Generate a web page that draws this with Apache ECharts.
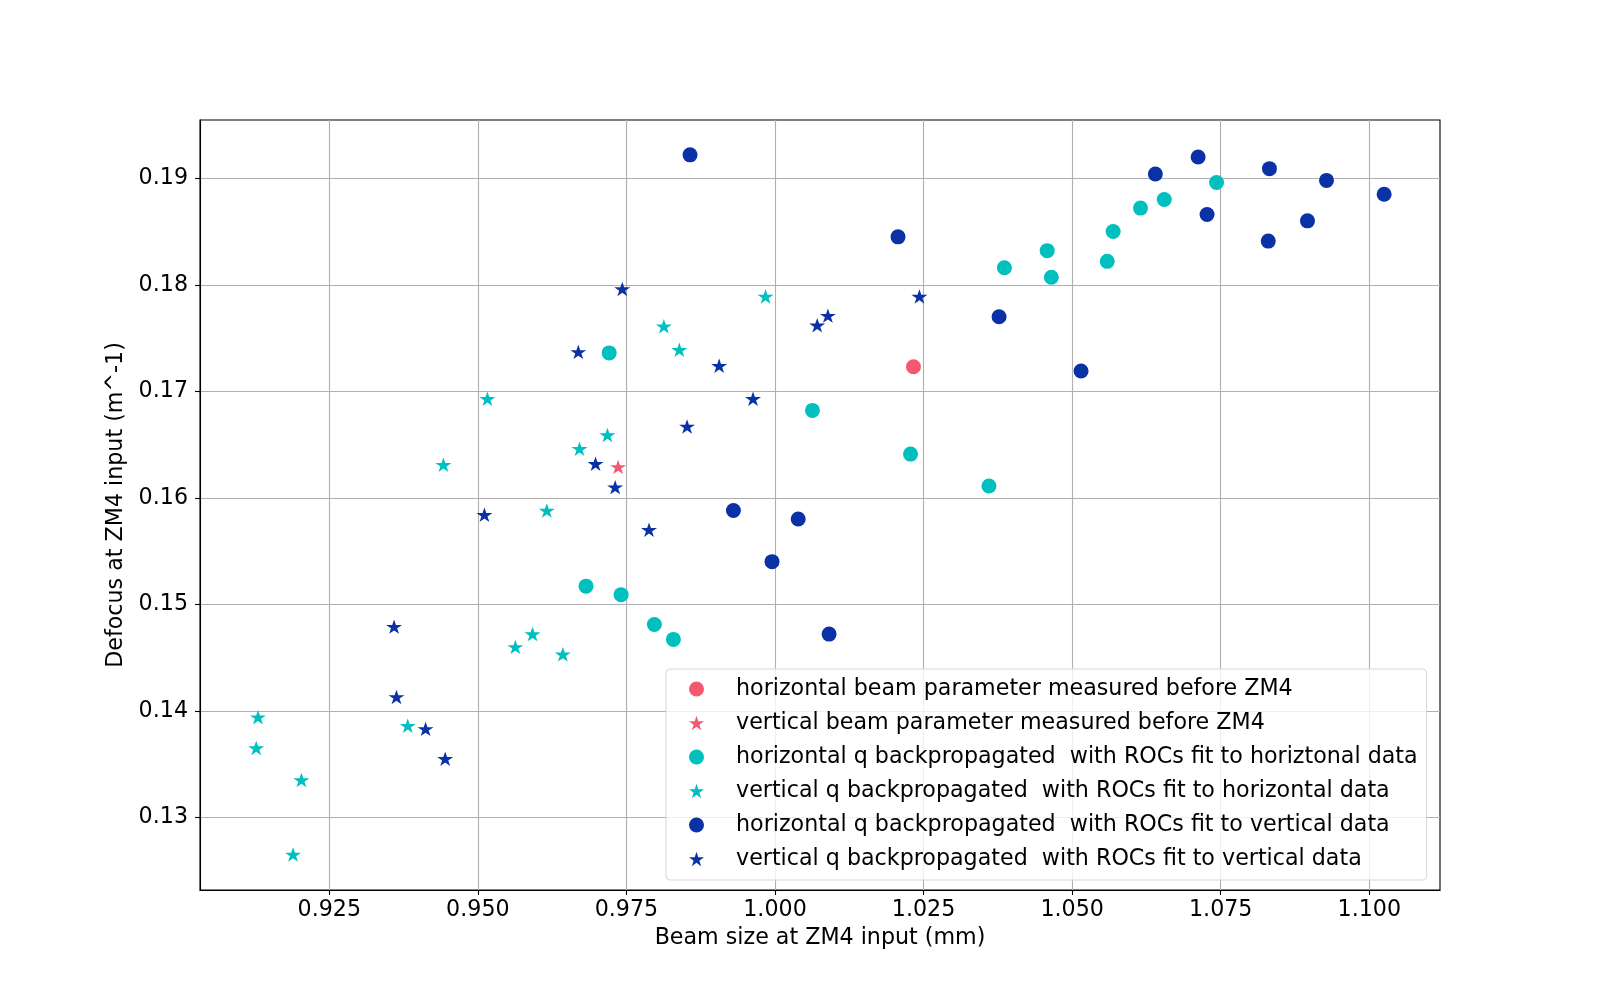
<!DOCTYPE html>
<html>
<head>
<meta charset="utf-8">
<script src="https://cdn.jsdelivr.net/npm/echarts@6/dist/echarts.min.js"></script>
<style>
  html, body { margin: 0; padding: 0; background: #fff; }
  #chart { width: 1600px; height: 1000px; }
</style>
</head>
<body>
<div id="chart"></div>
<script>
// measured before ZM4
const hMeasX = [1.0233]
const hMeasY = [0.1723]
const vMeasX = [0.9736]
const vMeasY = [0.1629]
// backpropagated, ROCs fit to horizontal data
const hFitHX = [0.9721, 1.0063, 1.0228, 1.0360, 0.9682, 0.9741, 0.9797, 0.9829, 1.0743, 1.0655, 1.0615, 1.0569, 1.0458, 1.0559, 1.0386, 1.0465]
const hFitHY = [0.1736, 0.1682, 0.1641, 0.1611, 0.1517, 0.1509, 0.1481, 0.1467, 0.1896, 0.1880, 0.1872, 0.1850, 0.1832, 0.1822, 0.1816, 0.1807]
const vFitHX = [0.9130, 0.9127, 0.9203, 0.9189, 0.9382, 0.9813, 0.9839, 0.9516, 0.9718, 0.9671, 0.9442, 0.9616, 0.9592, 0.9563, 0.9643, 0.9984]
const vFitHY = [0.1394, 0.1365, 0.1335, 0.1265, 0.1386, 0.1761, 0.1739, 0.1693, 0.1659, 0.1646, 0.1631, 0.1588, 0.1472, 0.1460, 0.1453, 0.1789]
// backpropagated, ROCs fit to vertical data
const hFitVX = [0.9857, 1.0207, 1.0712, 1.0640, 1.0832, 1.0928, 1.1025, 1.0727, 1.0896, 1.0830, 1.0377, 1.0515, 0.9930, 1.0039, 0.9995, 1.0091]
const hFitVY = [0.1922, 0.1845, 0.1920, 0.1904, 0.1909, 0.1898, 0.1885, 0.1866, 0.1860, 0.1841, 0.1770, 0.1719, 0.1588, 0.1580, 0.1540, 0.1472]
const vFitVX = [0.9359, 0.9363, 0.9412, 0.9445, 0.9743, 0.9669, 0.9852, 0.9698, 0.9731, 0.9511, 0.9788, 1.0243, 1.0089, 1.0071, 0.9906, 0.9963]
const vFitVY = [0.1479, 0.1413, 0.1383, 0.1355, 0.1796, 0.1737, 0.1667, 0.1632, 0.1610, 0.1584, 0.1570, 0.1789, 0.1771, 0.1762, 0.1724, 0.1693]

const xTicks = [0.925, 0.950, 0.975, 1.000, 1.025, 1.050, 1.075, 1.100]
const yTicks = [0.13, 0.14, 0.15, 0.16, 0.17, 0.18, 0.19]

const RED = '#f5576e'
const CYAN = '#00bfbf'
const NAVY = '#0b31a6'
const FONT = 'DejaVu Sans'
const FS = 22.2

// five point star like matplotlib's '*'
const starPath = (function () {
    const pts = []
    for (let i = 0; i < 10; i++) {
        const r = i % 2 === 0 ? 10 : 3.82
        const a = -Math.PI / 2 + i * Math.PI / 5
        pts.push((r * Math.cos(a)).toFixed(3) + ' ' + (r * Math.sin(a)).toFixed(3))
    }
    return 'path://M' + pts.join(' L') + ' Z'
})()

const zip = (xs, ys) => xs.map((x, i) => [x, ys[i]])

const makeSeries = function (name, xs, ys, color, star) {
    return {
        name,
        type: 'scatter',
        data: zip(xs, ys),
        symbol: star ? starPath : 'circle',
        symbolSize: star ? [16, 15.2] : 15,
        symbolKeepAspect: true,
        itemStyle: { color, opacity: 1 },
        emphasis: { disabled: true }
    }
}

const chart = echarts.init(document.getElementById('chart'))
chart.setOption({
    animation: false,
    backgroundColor: '#fff',
    grid: {
        left: 200, right: 160, top: 120, bottom: 110,
        show: true, borderColor: '#000', borderWidth: 1.1,
        containLabel: false
    },
    xAxis: {
        type: 'value',
        min: 0.90324,
        max: 1.1119,
        name: 'Beam size at ZM4 input (mm)',
        nameLocation: 'middle',
        nameGap: 37,
        nameTextStyle: { color: '#000', fontSize: FS, fontFamily: FONT },
        axisLine: { show: true, onZero: false, lineStyle: { color: '#000', width: 1.1 } },
        axisTick: { show: true, length: 5, customValues: xTicks, lineStyle: { color: '#000', width: 1.1 } },
        axisLabel: {
            customValues: xTicks, margin: 9,
            color: '#000', fontSize: FS, fontFamily: FONT,
            formatter: v => v.toFixed(3)
        },
        splitLine: { show: true, lineStyle: { color: '#b0b0b0', width: 1.1 } }
    },
    yAxis: {
        type: 'value',
        min: 0.12317,
        max: 0.19547,
        name: 'Defocus at ZM4 input (m^-1)',
        nameLocation: 'middle',
        nameGap: 65,
        nameTextStyle: { color: '#000', fontSize: FS, fontFamily: FONT },
        axisLine: { show: true, onZero: false, lineStyle: { color: '#000', width: 1.1 } },
        axisTick: { show: true, length: 5, customValues: yTicks, lineStyle: { color: '#000', width: 1.1 } },
        axisLabel: {
            customValues: yTicks, margin: 12,
            color: '#000', fontSize: FS, fontFamily: FONT,
            formatter: v => v.toFixed(2)
        },
        splitLine: { show: true, lineStyle: { color: '#b0b0b0', width: 1.1 } }
    },
    legend: {
        orient: 'vertical',
        left: 666,
        top: 669,
        padding: [8, 9, 9, 23],
        itemGap: 10,
        itemWidth: 15,
        itemHeight: 15,
        backgroundColor: 'rgba(255,255,255,0.8)',
        borderColor: '#d6d6d6',
        borderWidth: 1,
        borderRadius: 4,
        selectedMode: false,
        textStyle: {
            color: '#000', fontSize: FS, fontFamily: FONT,
            lineHeight: 24, padding: [0, 0, 0, 27]
        }
    },
    series: [
        makeSeries('horizontal beam parameter measured before ZM4', hMeasX, hMeasY, RED, false),
        makeSeries('vertical beam parameter measured before ZM4', vMeasX, vMeasY, RED, true),
        makeSeries('horizontal q backpropagated  with ROCs fit to horiztonal data', hFitHX, hFitHY, CYAN, false),
        makeSeries('vertical q backpropagated  with ROCs fit to horizontal data', vFitHX, vFitHY, CYAN, true),
        makeSeries('horizontal q backpropagated  with ROCs fit to vertical data', hFitVX, hFitVY, NAVY, false),
        makeSeries('vertical q backpropagated  with ROCs fit to vertical data', vFitVX, vFitVY, NAVY, true)
    ]
})
</script>
</body>
</html>
